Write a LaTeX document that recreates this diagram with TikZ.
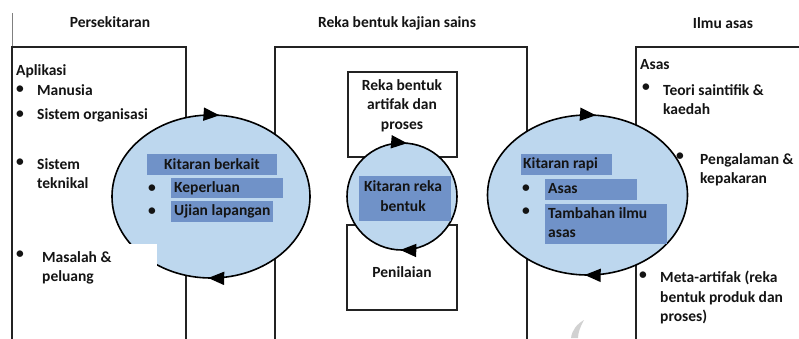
\documentclass[tikz,border=0pt]{standalone}
\usepackage{fontspec}
\setmainfont{Carlito}
\usetikzlibrary{arrows.meta,decorations.markings}

\definecolor{cyclefill}{RGB}{189,215,238}
\definecolor{tagfill}{RGB}{112,146,200}
\definecolor{frameline}{RGB}{35,35,35}
\definecolor{inktext}{RGB}{20,20,20}

\tikzset{
  lbl/.style={font=\bfseries\fontsize{15.5}{19.5}\selectfont, text=inktext, inner sep=0pt},
  lblw/.style={lbl, anchor=west, align=left},
  lblc/.style={lbl, anchor=center, align=center},
  bulletmark/.style={lbl, anchor=center},
  frame/.style={draw=frameline, line width=1.4pt},
  cycletip/.tip={Triangle[length=16pt,width=13pt]},
  cycle/.style={draw=black, line width=1.6pt, fill=cyclefill,
    postaction={decorate},
    decoration={markings,
      mark=at position 0.255 with {\arrow{cycletip}},
      mark=at position 0.765 with {\arrow{cycletip}}}},
  tag/.style={fill=tagfill, draw=none}
}

\begin{document}
\begin{tikzpicture}[x=1pt,y=-1pt]
\useasboundingbox (0,0) rectangle (799,338);
\clip (0,0) rectangle (799,338);
\fill[white] (0,0) rectangle (799,338);

% headings
\node[lblc] (hEnv) at (110,22) {Persekitaran};
\node[lblc] (hDes) at (397,23) {Reka bentuk kajian sains};
\node[lblc] (hKnow) at (723,23) {Ilmu asas};

% outer frames
\draw[draw=gray, line width=0.8pt] (12,13) -- (12,46);
\draw[frame] (12,345) -- (12,47) -- (186,47) -- (186,345);
\draw[frame] (275,345) -- (275,47) -- (527,47) -- (527,345);
\draw[frame] (636,345) -- (636,47) -- (805,47);

% inner boxes of the design frame
\draw[frame] (348,72) rectangle (457,157);
\draw[frame] (347,225) rectangle (457,310);

% the three cycles
\draw[cycle] (211,196.5) ellipse [x radius=99, y radius=81.5];
\draw[cycle] (402,196.5) ellipse [x radius=55, y radius=53.5];
\draw[cycle] (587.5,195) ellipse [x radius=100, y radius=80];

% white patch behind the last item of the left frame
\fill[white] (14,244) rectangle (157,305);

% left frame text
\node[lblw] (app) at (16,71) {Aplikasi};
\node[bulletmark] (b1) at (20,90) {•};
\node[lblw] (t1) at (37,90) {Manusia};
\node[bulletmark] (b2) at (20,115) {•};
\node[lblw] (t2) at (37,115) {Sistem organisasi};
\node[bulletmark] (b3) at (20,163) {•};
\node[lblw, anchor=north west] (t3) at (37,158) {Sistem\\teknikal};
\node[bulletmark] (b4) at (20,255) {•};
\node[lblw, anchor=north west] (t4) at (42,251) {Masalah \&\\peluang};

% left cycle tags
\fill[tag] (147,154) rectangle (277,175);
\node[lblc] (kb) at (212,164) {Kitaran berkait};
\fill[tag] (171,178) rectangle (283,198);
\node[bulletmark] (kb1) at (152,189) {•};
\node[lblw] (kbt1) at (174,188) {Keperluan};
\fill[tag] (171,201) rectangle (273,222);
\node[bulletmark] (kb2) at (152,212) {•};
\node[lblw] (kbt2) at (174,211) {Ujian lapangan};

% design frame text
\node[lblc, anchor=north] (art) at (402,79) {Reka bentuk\\artifak dan\\proses};
\fill[tag] (359,176) rectangle (451,221);
\node[lblc] (kr) at (403,196) {Kitaran reka\\bentuk};
\node[lblc] (eval) at (402,272) {Penilaian};

% right cycle tags
\fill[tag] (521,154) rectangle (612,175);
\node[lblw] (rp) at (523,164) {Kitaran rapi};
\fill[tag] (545,179) rectangle (637,200);
\node[bulletmark] (rp1) at (526,189) {•};
\node[lblw] (rpt1) at (548,189) {Asas};
\fill[tag] (545,204) rectangle (667,244);
\node[bulletmark] (rp2) at (526,212) {•};
\node[lblw, anchor=north west] (rpt2) at (548,207) {Tambahan ilmu\\asas};

% right frame text
\node[lblw] (asas) at (640,65) {Asas};
\node[bulletmark] (r1) at (646,88) {•};
\node[lblw, anchor=north west] (rt1) at (663,84) {Teori saintifik \&\\kaedah};
\node[bulletmark] (r2) at (680,157) {•};
\node[lblw, anchor=north west] (rt2) at (700,153) {Pengalaman \&\\kepakaran};
\node[bulletmark] (r3) at (643,276) {•};
\node[lblw, anchor=north west] (rt3) at (660,271) {Meta-artifak (reka\\bentuk produk dan\\proses)};

% faint mark near the bottom
\fill[black!18] (571,338) .. controls (572,330) and (577,324) .. (584,320)
  .. controls (580,327) and (578,333) .. (578,338) -- cycle;
\end{tikzpicture}
\end{document}
